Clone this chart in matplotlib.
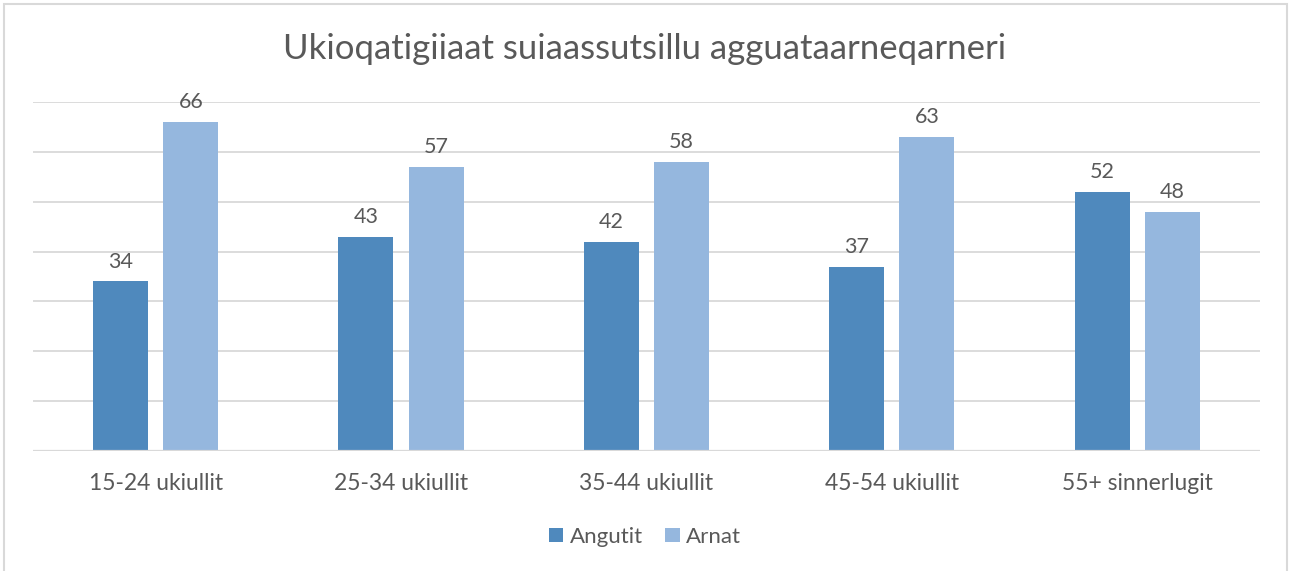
import matplotlib.pyplot as plt
import numpy as np
from matplotlib.patches import Rectangle

categories = ['15-24 ukiullit', '25-34 ukiullit', '35-44 ukiullit', '45-54 ukiullit', '55+ sinnerlugit']
angutit = [34, 43, 42, 37, 52]
arnat = [66, 57, 58, 63, 48]
series_names = ['Angutit', 'Arnat']
title = 'Ukioqatigiiaat suiaassutsillu agguataarneqarneri'

plt.rcParams['font.family'] = ['Lato', 'DejaVu Sans']
text_col = '#595959'
dark = '#4F89BD'
light = '#95B7DE'

fig = plt.figure(figsize=(12.9, 5.71), dpi=100)
ax = fig.add_axes([0.0256, 0.2102, 0.951, 0.6112])

x = np.arange(len(categories))
w = 0.224
off = 0.143
b1 = ax.bar(x - off, angutit, w, color=dark, label=series_names[0], zorder=3)
b2 = ax.bar(x + off, arnat, w, color=light, label=series_names[1], zorder=3)

for bars in (b1, b2):
    for r in bars:
        ax.annotate(f'{r.get_height():.0f}', (r.get_x() + r.get_width() / 2, r.get_height()),
                    xytext=(0, 7), textcoords='offset points', ha='center', va='bottom',
                    fontsize=15.5, color=text_col)

ax.set_xlim(-0.5, len(categories) - 0.5)
ax.set_ylim(0, 70)
ax.set_yticks(range(0, 71, 10))
ax.set_yticklabels([])
ax.tick_params(axis='y', length=0)
ax.tick_params(axis='x', length=0, pad=16, labelsize=16.5, labelcolor=text_col)
ax.set_xticks(x)
ax.set_xticklabels(categories)
ax.grid(axis='y', color='#D9D9D9', linewidth=1.3, zorder=0)
for s in ax.spines.values():
    s.set_visible(False)
ax.axhline(0, color='#D9D9D9', linewidth=1.6, zorder=4)

fig.text(0.5, 0.915, title, ha='center', va='center', fontsize=25, color=text_col)

fig.legend(handles=[b1, b2], labels=series_names, loc='center', bbox_to_anchor=(0.5, 0.06),
           ncol=2, frameon=False, fontsize=16, handlelength=0.65, handleheight=0.65,
           handletextpad=0.3, columnspacing=1.0, labelcolor=text_col)

fig.patches.append(Rectangle((0.003, -0.05), 0.995, 1.043, transform=fig.transFigure,
                             fill=False, edgecolor='#D9D9D9', linewidth=1.5))

fig.savefig('out.png', dpi=100, facecolor='white')
